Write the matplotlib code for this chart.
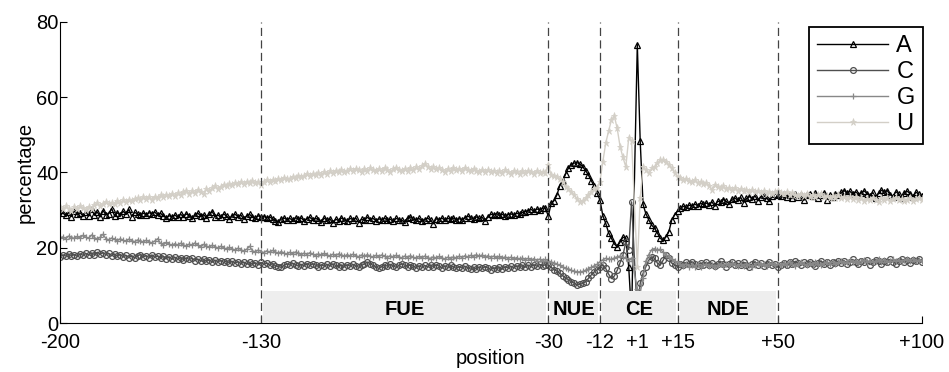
import numpy as np
import matplotlib.pyplot as plt
from matplotlib.patches import Rectangle

plt.rcParams['font.family'] = ['Liberation Sans', 'DejaVu Sans']

# positions -200..-1 and +1..+100 (no position 0)
positions = list(range(-200, 0)) + list(range(1, 101))

A_up = [30.0, 29.2, 28.6, 29.4, 28.3, 29.8, 28.9, 29.3, 28.5, 29.6,
        28.4, 30.3, 28.8, 29.5, 28.2, 29.9, 28.7, 29.1, 30.4, 28.5,
        29.3, 28.6, 29.7, 28.9, 30.2, 28.3, 29.4, 29.0, 28.6, 29.2,
        28.8, 29.3, 29.1, 29.5, 28.7, 29.2, 28.4, 28.0, 28.5, 28.2,
        28.7, 28.1, 28.9, 28.3, 29.0, 28.5, 27.8, 28.6, 29.2, 28.4,
        28.8, 28.0, 28.9, 29.6, 28.3, 28.7, 28.1, 29.0, 28.4, 27.6,
        28.5, 28.9, 28.2, 28.7, 27.6, 28.4, 28.9, 28.1, 27.8, 28.5,
        28.1, 28.3, 27.9, 28.2, 27.7, 27.2, 26.9, 27.6, 27.9, 27.5,
        27.8, 27.3, 28.0, 27.6, 27.9, 27.2, 27.7, 28.1, 27.4, 27.8,
        27.5, 26.8, 27.9, 27.3, 27.7, 26.5, 27.6, 27.2, 27.9, 27.4,
        27.1, 27.8, 27.5, 27.9, 26.7, 27.6, 27.3, 28.1, 27.5, 27.8,
        27.2, 27.7, 27.4, 27.9, 27.3, 27.6, 27.0, 27.8, 27.5, 27.3,
        26.8, 27.9, 28.2, 27.6, 27.4, 27.8, 27.1, 27.5, 27.9, 27.3,
        26.4, 27.7, 27.5, 27.9, 27.3, 27.8, 27.6, 27.9, 27.4, 27.7,
        27.5, 27.9, 28.4, 28.0, 27.7, 28.2, 27.8, 28.1, 27.0, 28.3,
        28.9, 28.7, 29.1, 28.6, 28.9, 28.4, 28.8, 29.0, 28.7, 29.2,
        28.9, 29.4, 29.6, 29.8, 30.2, 29.7, 30.3, 30.1, 30.5, 30.6,
        28.4, 31.8, 32.5, 34.0, 36.5, 37.8, 39.5, 41.2, 42.0, 42.5,
        42.6, 42.3, 41.5, 40.5, 39.3, 37.8, 36.3, 34.5, 32.7, 28.5,
        26.5, 24.0, 22.5, 21.0, 20.3, 21.5, 22.8, 22.5, 15.0, 2.0]
A_down = [74.0, 48.5, 31.5, 29.0, 27.4, 26.0, 25.2, 23.9, 22.5, 22.0,
          22.9, 24.3, 27.4, 28.7, 29.8, 30.5, 31.0, 30.7, 31.3, 31.1,
          31.6, 31.2, 31.8, 31.5, 31.9, 31.4, 32.2, 31.0, 32.4, 32.1,
          32.8, 32.3, 31.7, 32.9, 33.2, 32.6, 33.4, 32.0, 33.1, 33.6,
          33.0, 33.8, 32.5, 33.5, 33.9, 33.2, 32.4, 33.7, 34.3, 34.1,
          33.8, 34.2, 33.5, 34.0, 33.1, 34.4, 33.6, 34.1, 32.6, 33.9,
          34.2, 33.7, 34.5, 33.3, 34.0, 34.6, 32.8, 34.1, 33.5, 34.3,
          33.9, 34.7, 35.2, 34.5, 35.0, 34.3, 34.9, 34.0, 34.6, 35.1,
          34.4, 33.8, 34.7, 33.2, 34.5, 35.3, 34.8, 35.2, 34.1, 33.6,
          34.9, 34.3, 33.1, 34.6, 35.0, 34.4, 33.5, 34.8, 34.2, 33.8]

C_up = [17.6, 18.1, 17.8, 18.3, 17.9, 18.2, 17.7, 18.4, 18.0, 18.5,
        18.1, 18.6, 18.2, 18.8, 18.3, 18.7, 18.2, 18.5, 17.9, 18.3,
        17.8, 18.2, 17.6, 18.0, 17.4, 17.9, 17.3, 17.8, 18.2, 17.6,
        17.9, 17.4, 18.1, 17.5, 17.8, 17.2, 17.7, 17.1, 17.6, 17.0,
        17.5, 16.9, 17.4, 16.8, 17.3, 16.9, 17.2, 16.6, 17.0, 16.5,
        16.9, 16.4, 16.8, 16.2, 16.7, 16.3, 16.6, 16.1, 16.5, 16.0,
        16.4, 15.9, 16.3, 15.8, 16.2, 15.7, 16.1, 15.6, 16.0, 15.5,
        16.1, 15.6, 15.9, 15.4, 15.8, 15.2, 15.0, 14.8, 15.3, 15.7,
        15.4, 15.9, 15.5, 15.1, 15.6, 15.2, 15.8, 15.3, 15.7, 15.4,
        15.0, 15.5, 15.1, 15.6, 15.2, 15.7, 15.3, 14.9, 15.4, 15.0,
        15.5, 15.1, 15.6, 15.2, 14.8, 15.3, 15.7, 16.2, 15.8, 15.3,
        14.9, 14.5, 15.0, 15.4, 15.1, 15.6, 15.2, 14.8, 15.3, 15.7,
        15.4, 15.0, 15.5, 15.1, 14.7, 15.2, 14.8, 15.3, 14.9, 15.4,
        15.0, 15.5, 15.1, 14.6, 15.2, 14.8, 15.3, 14.9, 14.5, 15.0,
        14.6, 15.1, 14.7, 14.3, 14.8, 14.4, 14.9, 14.5, 15.0, 14.6,
        14.2, 14.7, 14.3, 14.8, 14.4, 15.0, 14.6, 15.1, 14.7, 15.2,
        14.8, 15.3, 14.9, 15.4, 15.0, 15.5, 15.1, 15.6, 15.2, 15.5,
        15.4, 14.8, 14.2, 13.8, 13.2, 12.6, 12.0, 11.5, 11.0, 10.6,
        10.1, 10.3, 10.5, 11.0, 11.9, 12.8, 13.6, 14.1, 15.0, 15.5,
        14.5, 13.0, 11.8, 12.5, 14.0, 16.0, 18.0, 21.5, 19.5, 32.2]
C_down = [2.0, 10.5, 13.2, 15.0, 16.7, 17.6, 17.2, 15.9, 15.4, 16.7,
          18.1, 17.2, 15.9, 15.5, 15.0, 15.8, 15.3, 16.1, 15.6, 16.3,
          15.7, 15.2, 16.0, 15.5, 16.2, 15.4, 15.9, 15.1, 15.7, 16.4,
          15.6, 15.0, 15.8, 16.1, 15.3, 15.9, 15.4, 16.2, 15.5, 15.0,
          15.7, 16.3, 15.4, 15.9, 15.2, 15.8, 16.1, 15.3, 15.6, 14.8,
          15.5, 16.0, 15.4, 16.2, 15.7, 16.4, 15.9, 15.3, 16.1, 15.6,
          16.3, 15.8, 15.2, 16.0, 16.5, 15.7, 16.2, 15.5, 16.3, 15.9,
          16.4, 16.0, 16.6, 15.8, 16.3, 16.9, 16.2, 15.6, 16.5, 16.1,
          16.7, 15.5, 16.2, 16.8, 16.4, 15.7, 16.6, 16.1, 16.9, 16.3,
          15.8, 16.5, 17.0, 16.2, 16.7, 16.0, 16.8, 16.4, 17.1, 16.3]

G_up = [22.6, 22.9, 22.4, 23.1, 22.7, 22.5, 23.0, 22.6, 23.3, 22.8,
        22.5, 23.4, 22.7, 22.3, 22.8, 23.6, 22.4, 22.1, 22.6, 22.2,
        21.9, 22.4, 22.0, 21.7, 22.3, 21.9, 21.6, 22.1, 21.8, 21.5,
        22.0, 21.6, 21.3, 21.8, 22.4, 21.2, 20.8, 21.4, 21.0, 20.6,
        21.1, 20.7, 21.2, 20.8, 20.4, 21.0, 20.6, 21.3, 20.7, 20.2,
        20.9, 20.5, 20.1, 20.7, 20.3, 19.9, 20.4, 20.0, 19.6, 20.1,
        19.7, 19.3, 19.9, 19.5, 19.1, 19.6, 20.4, 19.2, 18.9, 19.4,
        19.0, 18.7, 19.2, 18.8, 19.3, 18.9, 18.5, 19.0, 18.6, 18.3,
        18.8, 18.4, 18.9, 18.5, 18.1, 18.6, 18.2, 18.7, 18.3, 17.9,
        18.4, 18.0, 18.5, 18.1, 17.8, 18.3, 17.9, 18.4, 18.0, 17.7,
        18.2, 17.8, 18.3, 17.9, 17.6, 18.1, 17.7, 18.2, 17.8, 17.5,
        18.0, 17.6, 18.1, 17.7, 17.4, 17.9, 17.5, 18.0, 17.6, 17.3,
        17.8, 17.4, 17.9, 17.5, 17.2, 17.7, 17.3, 17.8, 17.4, 17.1,
        17.6, 17.2, 17.7, 17.3, 17.0, 17.5, 17.1, 17.6, 17.2, 17.8,
        17.4, 17.9, 17.5, 18.0, 17.6, 18.2, 17.7, 18.1, 17.5, 17.9,
        17.4, 17.8, 17.3, 17.7, 17.2, 17.6, 17.1, 17.5, 17.0, 17.4,
        16.9, 17.3, 16.8, 17.2, 16.7, 17.1, 16.6, 17.0, 16.5, 16.9,
        16.5, 16.2, 16.0, 15.7, 15.3, 14.9, 14.6, 14.3, 14.0, 13.8,
        13.6, 13.6, 13.7, 14.0, 14.4, 14.8, 15.2, 15.6, 16.3, 16.8,
        17.2, 17.0, 16.9, 17.3, 17.6, 17.8, 17.5, 17.2, 16.4, 17.3]
G_down = [9.0, 8.0, 12.0, 16.5, 18.2, 19.5, 19.8, 19.4, 19.6, 18.8,
          18.2, 17.6, 17.0, 16.4, 16.1, 15.6, 15.2, 15.8, 14.9, 15.4,
          15.0, 15.6, 14.8, 15.3, 15.7, 15.1, 15.5, 14.9, 15.4, 15.8,
          15.2, 15.7, 15.3, 15.9, 15.5, 15.1, 15.6, 15.2, 15.8, 15.4,
          15.0, 15.5, 15.9, 15.3, 15.7, 15.2, 15.6, 16.0, 15.4, 15.8,
          15.3, 15.9, 15.5, 16.1, 15.6, 15.2, 15.8, 16.2, 15.7, 15.4,
          16.0, 15.5, 16.1, 15.7, 15.3, 15.9, 16.3, 15.8, 16.2, 15.6,
          16.1, 16.5, 15.9, 16.3, 16.7, 16.1, 16.5, 16.0, 16.4, 16.8,
          16.2, 16.6, 16.1, 16.5, 16.9, 16.3, 16.7, 16.2, 16.6, 17.0,
          16.4, 16.8, 16.3, 16.7, 17.1, 16.5, 16.9, 16.4, 16.8, 16.6]

U_up = [30.7, 30.2, 31.0, 30.4, 29.9, 30.8, 30.3, 31.1, 30.5, 30.1,
        30.9, 30.4, 31.3, 31.8, 31.1, 31.6, 32.2, 31.5, 32.0, 31.7,
        32.4, 31.9, 32.6, 32.1, 32.8, 32.3, 32.9, 33.2, 32.6, 33.4,
        33.0, 33.5, 32.8, 33.6, 33.2, 33.9, 33.4, 34.1, 33.7, 34.3,
        33.8, 34.5, 34.0, 34.7, 35.2, 34.4, 35.0, 34.6, 35.4, 34.9,
        34.2, 35.5, 35.1, 35.8, 36.4, 35.6, 36.2, 36.8, 36.3, 37.0,
        36.6, 37.2, 36.9, 37.5, 37.0, 37.6, 37.3, 37.8, 37.2, 37.5,
        36.8, 37.4, 37.9, 37.5, 38.1, 37.7, 38.3, 38.0, 38.6, 38.2,
        38.4, 38.9, 38.5, 39.2, 38.7, 39.0, 39.5, 39.1, 39.6, 39.3,
        39.8, 39.4, 40.1, 39.7, 40.3, 39.9, 40.5, 40.0, 40.6, 40.2,
        40.4, 40.8, 40.3, 41.0, 40.6, 40.2, 40.9, 40.5, 41.1, 40.7,
        40.3, 40.9, 40.5, 41.2, 40.6, 40.2, 40.8, 41.3, 40.7, 40.4,
        40.9, 40.5, 41.1, 40.7, 41.4, 40.9, 41.6, 42.3, 41.5, 41.0,
        41.4, 40.8, 41.2, 40.6, 40.2, 40.9, 40.4, 41.1, 40.6, 41.0,
        40.5, 41.2, 40.7, 40.3, 40.9, 40.4, 40.1, 40.7, 40.2, 40.6,
        40.0, 40.5, 39.8, 40.3, 39.9, 40.6, 40.1, 39.7, 40.4, 40.0,
        39.6, 40.3, 39.9, 40.5, 40.1, 39.7, 40.4, 39.9, 40.2, 39.8,
        42.0, 39.3, 39.0, 38.9, 38.2, 37.6, 36.2, 35.5, 34.9, 34.0,
        32.9, 32.2, 32.5, 33.1, 34.0, 34.9, 35.5, 36.0, 37.6, 42.9,
        47.8, 51.0, 54.0, 55.0, 51.7, 46.9, 44.0, 41.5, 49.1, 48.5]
U_down = [15.0, 33.1, 41.5, 40.7, 39.8, 41.1, 41.5, 42.4, 43.3, 43.3,
          42.9, 42.0, 41.1, 39.8, 38.9, 38.5, 38.0, 38.3, 37.8, 37.5,
          37.9, 37.2, 37.6, 36.9, 37.3, 36.5, 35.4, 36.8, 36.2, 35.8,
          36.3, 35.6, 36.0, 35.3, 35.8, 35.2, 35.6, 35.0, 35.4, 34.9,
          35.3, 34.8, 35.2, 34.6, 35.0, 34.4, 34.9, 34.3, 34.7, 35.1,
          34.6, 34.2, 34.8, 33.9, 34.5, 34.1, 33.7, 34.3, 33.8, 34.2,
          33.6, 34.1, 33.5, 33.9, 34.3, 33.4, 33.8, 33.2, 33.7, 33.3,
          33.9, 33.1, 33.6, 32.9, 33.4, 33.0, 33.5, 32.7, 33.2, 32.5,
          33.0, 32.6, 33.3, 32.8, 32.2, 33.1, 32.7, 33.2, 32.4, 32.9,
          33.3, 32.6, 33.0, 32.4, 32.8, 33.2, 32.5, 32.9, 33.1, 32.6]

# regions
region_names = ['FUE', 'NUE', 'CE', 'NDE']
region_bounds = [(-130, -30), (-30, -12), (-12, 15), (15, 50)]
dashed_x = [-130, -30, -12, 15, 50]
tick_pos = [-200, -130, -30, -12, 1, 15, 50, 100]
tick_lab = ['-200', '-130', '-30', '-12', '+1', '+15', '+50', '+100']

fig = plt.figure(figsize=(9.49, 3.72), dpi=100)
ax = fig.add_axes([0.0632, 0.1317, 0.9080, 0.8092])

ms = 4.2
ax.plot(positions, A_up + A_down, color='black', lw=1.0, marker='^', ms=ms,
        mfc='none', mew=0.9, label='A')
ax.plot(positions, C_up + C_down, color='#4f4f4f', lw=1.0, marker='o', ms=ms,
        mfc='none', mew=0.9, label='C')
ax.plot(positions, G_up + G_down, color='#888888', lw=1.0, marker='+', ms=ms + 0.6,
        mew=0.9, label='G')
ax.plot(positions, U_up + U_down, color='#d3cfc7', lw=1.0, marker='*', ms=ms + 1.0,
        mew=0.5, label='U')

for (x0, x1), name in zip(region_bounds, region_names):
    ax.add_patch(Rectangle((x0 + 0.7, 0), x1 - x0 - 1.4, 8.5, facecolor='#eeeeee',
                           edgecolor='none', zorder=3))
    ax.text((x0 + x1) / 2, 3.5, name, ha='center', va='center', fontsize=14.5,
            fontweight='bold', zorder=5)

for x in dashed_x:
    ax.axvline(x, color='#444444', lw=0.9, ls=(0, (6.5, 3.5)), zorder=4)

ax.set_xlim(-200, 100)
ax.set_ylim(0, 80)
ax.set_xticks(tick_pos)
ax.set_xticklabels(tick_lab)
ax.set_yticks([0, 20, 40, 60, 80])
ax.tick_params(direction='in', length=5, labelsize=14.5, width=0.8)
ax.tick_params(axis='x', pad=7)
ax.tick_params(axis='y', pad=1)
for s in ['top', 'right']:
    ax.spines[s].set_visible(False)
ax.set_xlabel('position', fontsize=14.5, labelpad=-2)
ax.set_ylabel('percentage', fontsize=14.5, labelpad=1)

leg = ax.legend(loc='upper right', bbox_to_anchor=(1.0015, 0.983), borderaxespad=0,
                fontsize=17, handlelength=3.0, handletextpad=0.35,
                labelspacing=0.17, borderpad=0.35,
                fancybox=False, framealpha=1, edgecolor='black')
leg.get_frame().set_linewidth(1.3)

fig.savefig('out.png', dpi=100)
